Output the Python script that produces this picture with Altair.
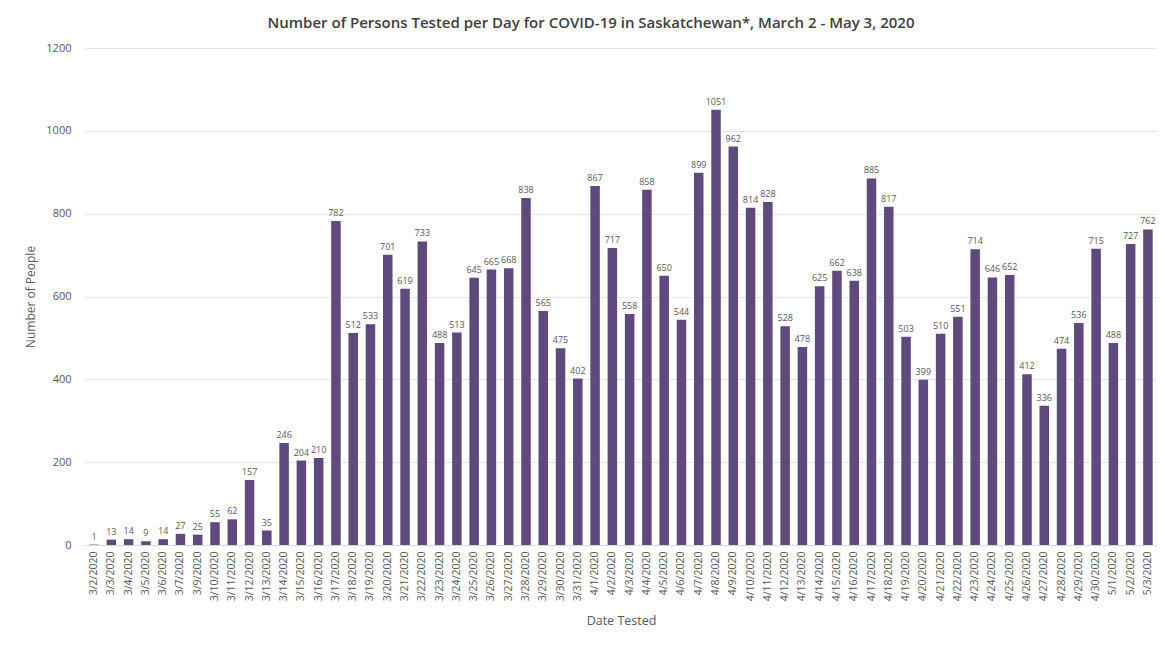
import altair as alt
import pandas as pd

dates = ["3/2/2020", "3/3/2020", "3/4/2020", "3/5/2020", "3/6/2020", "3/7/2020", "3/9/2020",
         "3/10/2020", "3/11/2020", "3/12/2020", "3/13/2020", "3/14/2020", "3/15/2020", "3/16/2020",
         "3/17/2020", "3/18/2020", "3/19/2020", "3/20/2020", "3/21/2020", "3/22/2020", "3/23/2020",
         "3/24/2020", "3/25/2020", "3/26/2020", "3/27/2020", "3/28/2020", "3/29/2020", "3/30/2020",
         "3/31/2020", "4/1/2020", "4/2/2020", "4/3/2020", "4/4/2020", "4/5/2020", "4/6/2020",
         "4/7/2020", "4/8/2020", "4/9/2020", "4/10/2020", "4/11/2020", "4/12/2020", "4/13/2020",
         "4/14/2020", "4/15/2020", "4/16/2020", "4/17/2020", "4/18/2020", "4/19/2020", "4/20/2020",
         "4/21/2020", "4/22/2020", "4/23/2020", "4/24/2020", "4/25/2020", "4/26/2020", "4/27/2020",
         "4/28/2020", "4/29/2020", "4/30/2020", "5/1/2020", "5/2/2020", "5/3/2020"]
tested = [1, 13, 14, 9, 14, 27, 25,
          55, 62, 157, 35, 246, 204, 210,
          782, 512, 533, 701, 619, 733, 488,
          513, 645, 665, 668, 838, 565, 475,
          402, 867, 717, 558, 858, 650, 544,
          899, 1051, 962, 814, 828, 528, 478,
          625, 662, 638, 885, 817, 503, 399,
          510, 551, 714, 646, 652, 412, 336,
          474, 536, 715, 488, 727, 762]
y_ticks = [0, 200, 400, 600, 800, 1000, 1200]

df = pd.DataFrame({"date": dates, "tested": tested})

FONT = "Open Sans"
GREY = "#595959"
BAR = "#5E4A7E"

x = alt.X("date:N", sort=dates, title="Date Tested",
          scale=alt.Scale(paddingInner=0.45, paddingOuter=0.25),
          axis=alt.Axis(labelAngle=-90, labelFontSize=10.5, labelColor=GREY, labelFont=FONT,
                        titleFont=FONT, titleFontSize=12.5, titleColor=GREY, titleFontWeight="normal",
                        titlePadding=14, ticks=False, domainColor="#D9D9D9", labelPadding=6))
y = alt.Y("tested:Q", title="Number of People",
          scale=alt.Scale(domain=[0, 1200]),
          axis=alt.Axis(values=y_ticks, format="d", labelFontSize=11, labelColor=GREY, labelFont=FONT,
                        titleFont=FONT, titleFontSize=12, titleColor=GREY, titleFontWeight="normal",
                        titlePadding=8, ticks=False, domain=False, gridColor="#E6E6E6",
                        labelPadding=14))

bars = alt.Chart(df).mark_bar(color=BAR).encode(x=x, y=y)
labels = alt.Chart(df).mark_text(dy=-8, fontSize=9, color=GREY, font=FONT).encode(
    x=alt.X("date:N", sort=dates), y="tested:Q", text="tested:Q")

chart = (bars + labels).properties(
    width=1072, height=497,
    autosize=alt.AutoSizeParams(type="none"),
    padding={"left": 77, "top": 40, "right": 0, "bottom": 92},
    title=alt.TitleParams(
        "Number of Persons Tested per Day for COVID-19 in Saskatchewan*, March 2 - May 3, 2020",
        font=FONT, fontSize=15, fontWeight=600, color="#404040", anchor="middle",
        dx=-30, offset=11),
).configure_view(stroke=None)

chart.save("out.html", embed_options={"renderer": "svg", "actions": False})
